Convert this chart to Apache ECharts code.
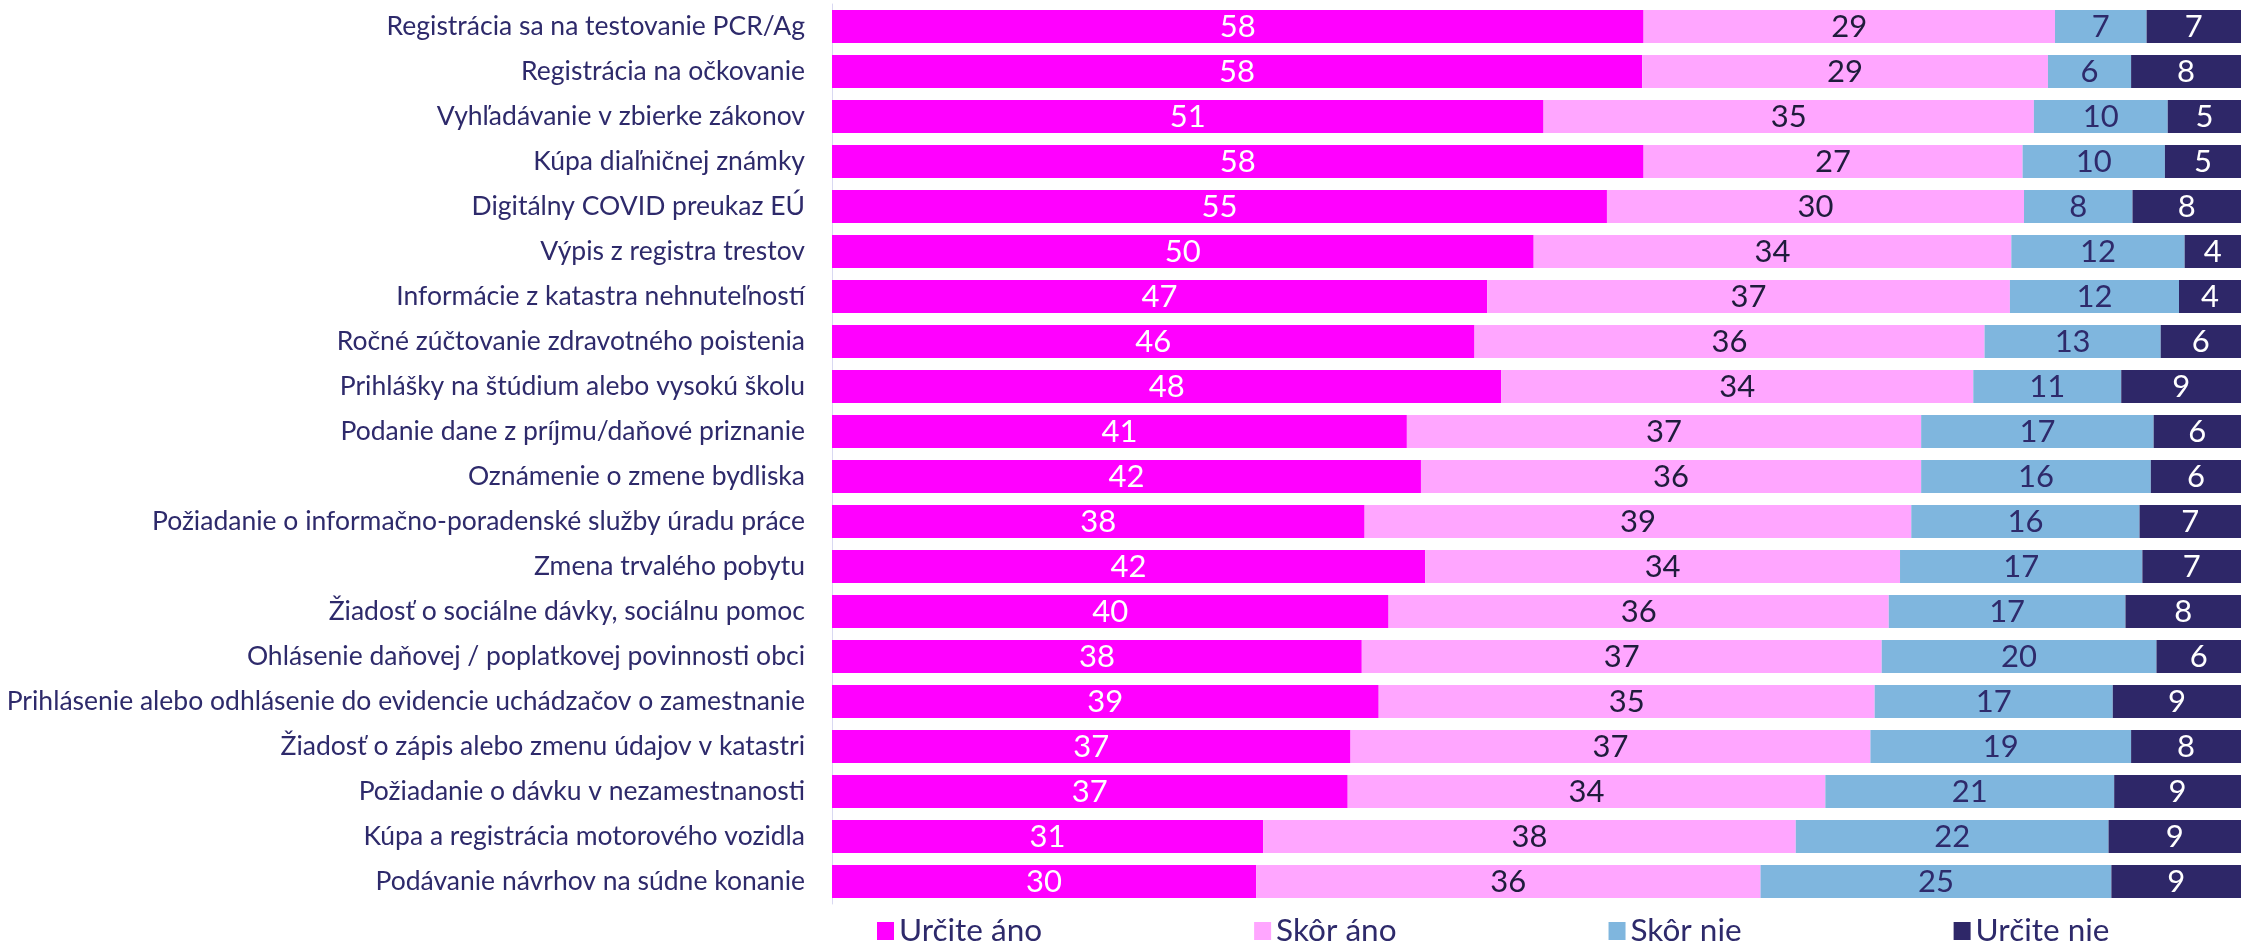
<!DOCTYPE html>
<html>
<head>
<meta charset="utf-8">
<script src="https://cdn.jsdelivr.net/npm/echarts@6/dist/echarts.min.js"></script>
<style>
html,body{margin:0;padding:0;background:#fff;}
#chart{width:2241px;height:944px;}
</style>
</head>
<body>
<div id="chart"></div>
<script>
const categories = [
  "Registrácia sa na testovanie PCR/Ag",
  "Registrácia na očkovanie",
  "Vyhľadávanie v zbierke zákonov",
  "Kúpa diaľničnej známky",
  "Digitálny COVID preukaz EÚ",
  "Výpis z registra trestov",
  "Informácie z katastra nehnuteľností",
  "Ročné zúčtovanie zdravotného poistenia",
  "Prihlášky na štúdium alebo vysokú školu",
  "Podanie dane z príjmu/daňové priznanie",
  "Oznámenie o zmene bydliska",
  "Požiadanie o informačno-poradenské služby úradu práce",
  "Zmena trvalého pobytu",
  "Žiadosť o sociálne dávky, sociálnu pomoc",
  "Ohlásenie daňovej / poplatkovej povinnosti obci",
  "Prihlásenie alebo odhlásenie do evidencie uchádzačov o zamestnanie",
  "Žiadosť o zápis alebo zmenu údajov v katastri",
  "Požiadanie o dávku v nezamestnanosti",
  "Kúpa a registrácia motorového vozidla",
  "Podávanie návrhov na súdne konanie"
];
const seriesNames = ["Určite áno", "Skôr áno", "Skôr nie", "Určite nie"];
// percentage shares (labels show the rounded values)
const urciteAno = [57.6, 57.5, 50.5, 57.6, 55.0, 49.8, 46.5, 45.6, 47.5, 40.8, 41.8, 37.8, 42.1, 39.5, 37.6, 38.8, 36.8, 36.6, 30.6, 30.1];
const skorAno   = [29.2, 28.8, 34.8, 26.9, 29.6, 33.9, 37.1, 36.2, 33.5, 36.5, 35.5, 38.8, 33.7, 35.5, 36.9, 35.2, 36.9, 33.9, 37.8, 35.8];
const skorNie   = [ 6.5,  5.9,  9.5, 10.1,  7.7, 12.3, 12.0, 12.5, 10.5, 16.5, 16.3, 16.2, 17.2, 16.8, 19.5, 16.9, 18.5, 20.5, 22.2, 24.9];
const urciteNie = [ 6.7,  7.8,  5.2,  5.4,  7.7,  4.0,  4.4,  5.7,  8.5,  6.2,  6.4,  7.2,  7.0,  8.2,  6.0,  9.1,  7.8,  9.0,  9.4,  9.2];

const raw = [urciteAno, skorAno, skorNie, urciteNie];
const colors = ["#FF00FF", "#FFA6FF", "#7FB6DE", "#2E2768"];
const labelColors = ["#FFFFFF", "#1F1C3C", "#2E2A6B", "#FFFFFF"];

const FONT = "Lato";
const series = raw.map((arr, k) => ({
  name: seriesNames[k],
  type: "bar",
  stack: "total",
  barWidth: 33,
  itemStyle: { color: colors[k] },
  label: {
    show: true,
    position: "inside",
    color: labelColors[k],
    fontFamily: FONT,
    fontSize: 31,
    formatter: p => String(Math.round(p.value))
  },
  data: arr
}));

const chart = echarts.init(document.getElementById("chart"), null, { renderer: "canvas" });
chart.setOption({
  animation: false,
  textStyle: { fontFamily: FONT },
  grid: { left: 832, top: 4, width: 1420, height: 900 },
  xAxis: { type: "value", min: 0, max: 100, show: false },
  yAxis: {
    type: "category",
    inverse: true,
    data: categories,
    axisLine: { show: true, lineStyle: { color: "#D9D8F2", width: 1 } },
    axisTick: { show: false },
    axisLabel: { color: "#2E2A6B", fontFamily: FONT, fontSize: 26.5, margin: 27 }
  },
  legend: {
    left: 872,
    top: 910,
    itemWidth: 17,
    itemHeight: 18,
    itemGap: 212,
    icon: "rect",
    textStyle: { color: "#2E2A6B", fontFamily: FONT, fontSize: 31.5 },
    data: seriesNames
  },
  series: series
});
</script>
</body>
</html>
